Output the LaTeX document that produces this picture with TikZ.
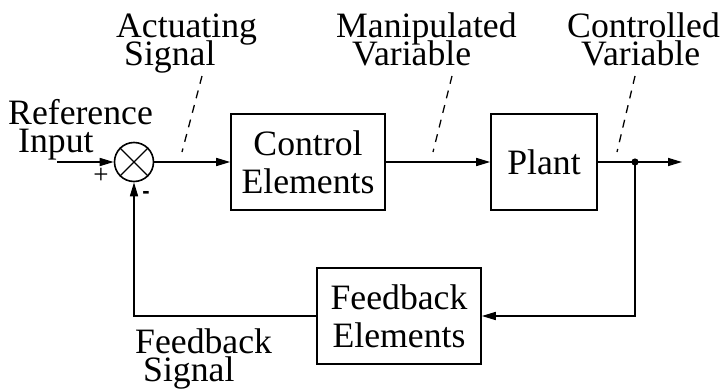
\documentclass[tikz,border=0pt]{standalone}
\usepackage{fontspec}
\setmainfont{Liberation Serif}
\newfontfamily\signfont{Liberation Sans}
\usetikzlibrary{arrows.meta}

\begin{document}
\begin{tikzpicture}[x=1pt,y=-1pt,
  blk/.style={draw, line width=1.6pt, inner sep=0pt, minimum height=96pt,
    align=center, font=\fontsize{35.7}{38}\selectfont},
  lbl/.style={inner sep=0pt, align=left, anchor=base west,
    font={\fontsize{35.7}{28}\selectfont\lineskiplimit=-100pt\relax}},
  sig/.style={line width=1.6pt, -{Triangle[length=14pt,width=8pt]}},
  note/.style={line width=1.3pt, dash pattern=on 8pt off 7pt}]
\useasboundingbox (0,0) rectangle (722,388);
% blocks
\node[draw, circle, line width=1.6pt, minimum size=39pt, inner sep=0pt] (sum) at (134,162) {};
\draw[line width=1.4pt] (sum.north west) -- (sum.south east);
\draw[line width=1.4pt] (sum.north east) -- (sum.south west);
\node[blk, minimum width=154pt] (ctrl) at (308,162) {Control\\Elements};
\node[blk, minimum width=106pt] (plant) at (544,162) {Plant};
\node[blk, minimum width=164pt] (fb) at (399,316) {Feedback\\Elements};
%
\coordinate (in) at (57,162);
\coordinate (out) at (682,162);
\coordinate (tap) at (635,162);
\coordinate (tapdown) at (635,316);
\coordinate (back) at (134,316);
% signals
\draw[sig] (in) -- (sum.west);
\draw[sig] (sum.east) -- (ctrl.west);
\draw[sig] (ctrl.east) -- (plant.west);
\draw[sig] (plant.east) -- (out);
\draw[sig] (tap) -- (tapdown) -- (fb.east);
\draw[sig] (fb.west) -- (back) -- (sum.south);
\fill (tap) circle (3.6pt);
% signs
\node[inner sep=0pt, font=\fontsize{27}{27}\selectfont] (plus) at (101,176) {+};
\node[inner sep=0pt, font=\signfont\bfseries\fontsize{22}{22}\selectfont] (minus) at (146,195) {-};
% labels
\node[lbl] (refin) at (8,152) {Reference\\\hspace*{10pt}Input};
\node[lbl] (act) at (116,65) {Actuating\\\hspace*{8pt}Signal};
\node[lbl] (manip) at (336,65) {Manipulated\\\hspace*{16pt}Variable};
\node[lbl] (contr) at (567,65) {Controlled\\\hspace*{14pt}Variable};
\node[lbl] (fbsig) at (135,381) {Feedback\\\hspace*{8pt}Signal};
% leaders
\coordinate (a1) at (202,76);
\coordinate (a2) at (182,152);
\coordinate (m1) at (452,76);
\coordinate (m2) at (433,152);
\coordinate (c1) at (635,76);
\coordinate (c2) at (617,152);
\draw[note] (a1) -- (a2);
\draw[note] (m1) -- (m2);
\draw[note] (c1) -- (c2);
\end{tikzpicture}
\end{document}
